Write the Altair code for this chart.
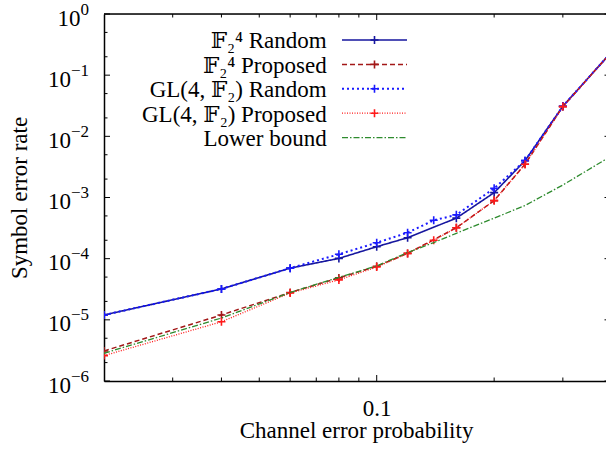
import altair as alt
import pandas as pd

# Channel error probabilities at which the schemes were simulated
x_f = [0.02, 0.04, 0.06, 0.08, 0.10, 0.12, 0.16, 0.20, 0.24, 0.30, 0.40]
x_gl = [0.02, 0.04, 0.06, 0.08, 0.10, 0.12, 0.14, 0.16, 0.20, 0.24, 0.30, 0.40]

# Symbol error rates
f_random = [1.2e-5, 3.2e-5, 7.0e-5, 1.01e-4, 1.57e-4, 2.2e-4, 4.6e-4, 1.2e-3, 4.0e-3, 3.1e-2, 0.24]
f_proposed = [3.1e-6, 1.2e-5, 2.8e-5, 4.85e-5, 7.5e-5, 1.22e-4, 3.2e-4, 8.9e-4, 3.5e-3, 3.06e-2, 0.24]
gl_random = [1.2e-5, 3.2e-5, 7.0e-5, 1.18e-4, 1.82e-4, 2.66e-4, 4.24e-4, 5.2e-4, 1.41e-3, 4.0e-3, 3.1e-2, 0.24]
gl_proposed = [2.6e-6, 9.3e-6, 2.75e-5, 4.5e-5, 7.3e-5, 1.22e-4, 2.0e-4, 3.2e-4, 8.9e-4, 3.5e-3, 3.06e-2, 0.24]
lower_bound = [2.84e-6, 1.07e-5, 2.8e-5, 4.96e-5, 7.6e-5, 1.26e-4, 1.83e-4, 2.6e-4, 4.6e-4, 7.4e-4, 1.6e-3, 4.8e-3]

legend_labels = [
    "𝔽₂⁴ Random",
    "𝔽₂⁴ Proposed",
    "GL(4, 𝔽₂) Random",
    "GL(4, 𝔽₂) Proposed",
    "Lower bound",
]

# Axis ticks (log scales, inward ticks on every side)
y_decades = [1e-6, 1e-5, 1e-4, 1e-3, 1e-2, 1e-1, 1.0]
y_exponents = ["−6", "−5", "−4", "−3", "−2", "−1", "0"]
y_minor = [2e-6, 5e-6, 2e-5, 5e-5, 2e-4, 5e-4, 2e-3, 5e-3, 2e-2, 5e-2, 2e-1, 5e-1]
x_major = [0.1]
x_minor = [0.03, 0.04, 0.05, 0.06, 0.07, 0.08, 0.09, 0.2, 0.3]

SERIF = "Liberation Serif, Times New Roman, Tinos, DejaVu Serif, serif"
W, H = 502, 367
X_MAX = 0.387
CROSS = "M-1,0H1M0,-1V1"

styles = [
    # (xs, ys, colour, dash, width, markers)
    (x_f, f_random, "#16169e", [1, 0], 1.6, True),
    (x_f, f_proposed, "#a31818", [5, 3], 1.5, True),
    (x_gl, gl_random, "#1a1aff", [2, 3], 2.0, True),
    (x_gl, gl_proposed, "#ff1a1a", [1, 1.5], 1.3, True),
    (x_gl, lower_bound, "#2e8b2e", [6, 2, 1.5, 2], 1.3, False),
]

XS = alt.Scale(type="log", domain=[0.02, X_MAX], nice=False)
YS = alt.Scale(type="log", domain=[1e-6, 1.0], nice=False)

X_AXIS = alt.Axis(
    values=x_major, format="~g", title="Channel error probability",
    ticks=False, grid=False, domainColor="black", domainWidth=1.5,
    labelFont=SERIF, labelFontSize=23, labelColor="black",
    labelBaseline="alphabetic", labelPadding=34,
    titleFont=SERIF, titleFontSize=23, titleFontWeight="normal", titleColor="black",
    titleX=252, titleY=56, titleAlign="center", titleBaseline="alphabetic",
)
# decade labels are drawn as text marks below (base + raised exponent)
Y_AXIS = alt.Axis(
    values=y_decades, labels=False, title="Symbol error rate",
    ticks=False, grid=False, domainColor="black", domainWidth=1.5,
    titleFont=SERIF, titleFontSize=23, titleFontWeight="normal", titleColor="black",
    titleAngle=270, titleX=-78, titleY=H / 2, titleAlign="center", titleBaseline="alphabetic",
)


def xenc():
    return alt.X("p:Q", scale=XS, axis=X_AXIS)


def yenc():
    return alt.Y("v:Q", scale=YS, axis=Y_AXIS)


one = pd.DataFrame({"a": [0]})
layers = []

# Frame and inward ticks
layers.append(alt.Chart(one).mark_rule(color="black", strokeWidth=1.5).encode(
    x=alt.value(0), x2=alt.value(W), y=alt.value(0)))
for vals, size in ((x_major, 6), (x_minor, 3.5)):
    df = pd.DataFrame({"p": vals})
    layers.append(alt.Chart(df).mark_rule(color="black", strokeWidth=1).encode(
        x=xenc(), y=alt.value(H), y2=alt.value(H - size)))
    layers.append(alt.Chart(df).mark_rule(color="black", strokeWidth=1).encode(
        x=xenc(), y=alt.value(0), y2=alt.value(size)))
for vals, size in ((y_decades, 6), (y_minor, 3.5)):
    df = pd.DataFrame({"v": vals})
    layers.append(alt.Chart(df).mark_rule(color="black", strokeWidth=1).encode(
        y=yenc(), x=alt.value(0), x2=alt.value(size)))
layers.append(alt.Chart(pd.DataFrame({"v": y_decades})).mark_rule(color="black", strokeWidth=1).encode(
    y=yenc(), x=alt.value(W - 1.5), x2=alt.value(W)))

# Decade labels: "10" with a raised exponent
dec = pd.DataFrame({"v": y_decades, "e": y_exponents, "b": ["10"] * len(y_decades)})
neg = dec[dec["v"] < 1]
pos = dec[dec["v"] >= 1]
for df, base_x in ((neg, -33), (pos, -23.5)):
    layers.append(alt.Chart(df).mark_text(
        align="right", baseline="alphabetic", font=SERIF, fontSize=23, color="black", dy=11.5
    ).encode(x=alt.value(base_x), y=yenc(), text="b:N"))
layers.append(alt.Chart(dec).mark_text(
    align="right", baseline="alphabetic", font=SERIF, fontSize=17, color="black", dy=0.5
).encode(x=alt.value(-15), y=yenc(), text="e:N"))

# Data series
for xs, ys, color, dash, width, markers in styles:
    df = pd.DataFrame({"p": xs, "v": ys})
    layers.append(alt.Chart(df).mark_line(
        clip=True, color=color, strokeDash=dash, strokeWidth=width).encode(x=xenc(), y=yenc()))
    if markers:
        layers.append(alt.Chart(df).mark_point(
            clip=True, shape=CROSS, filled=False, color=color, size=64, strokeWidth=1.6, opacity=1
        ).encode(x=xenc(), y=yenc()))

# Key
ROW0, ROW_STEP = 26, 24.4
for i, (label, (xs, ys, color, dash, width, markers)) in enumerate(zip(legend_labels, styles)):
    ry = ROW0 + i * ROW_STEP
    layers.append(alt.Chart(pd.DataFrame({"label": [label]})).mark_text(
        align="right", baseline="alphabetic", font=SERIF, fontSize=23, color="black"
    ).encode(x=alt.value(222.7), y=alt.value(ry + 8.3), text="label:N"))
    layers.append(alt.Chart(one).mark_rule(color=color, strokeDash=dash, strokeWidth=width).encode(
        x=alt.value(238), x2=alt.value(303), y=alt.value(ry)))
    if markers:
        layers.append(alt.Chart(one).mark_point(
            shape=CROSS, filled=False, color=color, size=64, strokeWidth=1.6, opacity=1
        ).encode(x=alt.value(270.5), y=alt.value(ry)))

chart = alt.layer(*layers).properties(
    width=W, height=H,
    autosize=alt.AutoSizeParams(type="none"),
    padding={"left": 104, "top": 14, "right": 0, "bottom": 84},
).configure_view(stroke=None).configure(background="white", font=SERIF)

chart.save("out.html", embed_options={"renderer": "svg", "actions": False})
